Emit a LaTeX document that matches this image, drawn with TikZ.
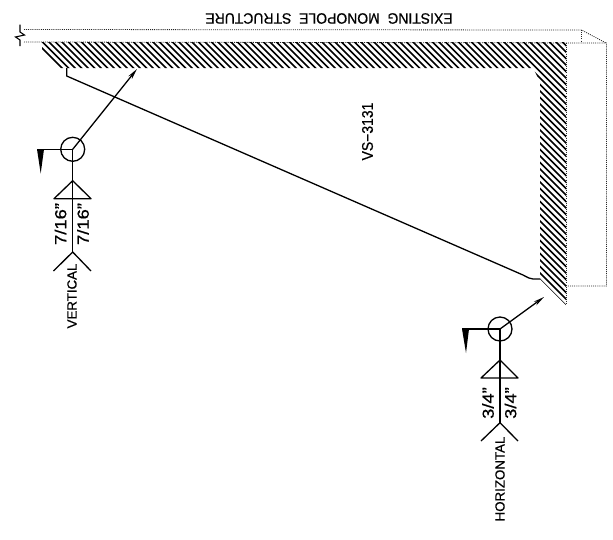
\documentclass[tikz,border=0pt]{standalone}
\usepackage{fontspec}
\usepackage{graphicx}
\setmainfont{Liberation Sans}[RawFeature={embolden=0.6}]
\usetikzlibrary{arrows.meta}
\tikzset{
  x=1pt,y=-1pt,
  ink/.style={line width=1.3pt,black},
  thin ink/.style={line width=1.1pt,black},
  dots/.style={line width=0.8pt,black!85,dash pattern=on 1pt off 1.1pt},
  hatchline/.style={line width=1.5pt,black},
  weldring/.style={circle,draw,line width=1.3pt,minimum size=24pt,inner sep=0pt},
  lbl/.style={inner sep=0pt,font=\fontsize{13.3pt}{14pt}\selectfont,rotate=90},
  size/.style={inner sep=0pt,font=\fontsize{16pt}{17pt}\selectfont,rotate=90},
  arrowed/.style={-{Stealth[length=11pt,width=4.5pt]}},
}
\begin{document}
\begin{tikzpicture}
\useasboundingbox (0,0) rectangle (613,539);
% outline of the existing structure
\coordinate (ta) at (24,29.5);
\coordinate (tb) at (581.5,30);
\coordinate (tc) at (606,43);
\coordinate (tcb) at (581.5,41);
\coordinate (ba) at (24,42);
\coordinate (bb) at (606.5,43);
\coordinate (rb) at (606.5,286);
\coordinate (rc) at (567,286);
\coordinate (ea) at (566.5,43);
\coordinate (eb) at (566.5,304);
\draw[dots] (ta) -- (tb) -- (tc);
\draw[dots] (tb) -- (tcb);
\draw[dots] (ba) -- (bb) -- (rb) -- (rc);
\draw[dots] (ea) -- (eb);
% break symbol
\coordinate (k1) at (20,24.5);
\coordinate (k2) at (20,32);
\coordinate (k3) at (24.5,35);
\coordinate (k4) at (15.5,37);
\coordinate (k5) at (20,40);
\coordinate (k6) at (20,46);
\draw[thin ink] (k1) -- (k2) -- (k3) -- (k4) -- (k5) -- (k6);
% hatched section
\begin{scope}
\clip (42,42) -- (566,42) -- (566,305) -- (540,279) -- (540,82) -- (533,68) -- (61,68) -- (42,49) -- cycle;
\foreach \c in {0,...,90} {
  \pgfmathsetmacro{\off}{6-6.5*\c}
  \draw[hatchline] (20,20+\off) -- (600,600+\off);
}
\end{scope}
% plate edge
\coordinate (w1) at (66.7,68);
\coordinate (w2) at (66.7,76);
\coordinate (w3) at (523,275);
\coordinate (w4) at (540,279);
\draw[ink,line join=round] (w1) -- (w2) -- (w3) .. controls (528,277.5) and (530,279) .. (533,279) -- (w4);
\node[lbl,font=\fontsize{15.5pt}{16pt}\selectfont] (plate) at (367.5,131.5) {\scalebox{0.9}[1]{VS−3131}};
\node[inner sep=0pt,rotate=180,font=\fontsize{15pt}{16pt}\selectfont] (struct) at (329,18.5) {\scalebox{0.93}[1]{EXISTING\ \ MONOPOLE\ \ STRUCTURE}};
% vertical weld symbol
\node[weldring] (ring1) at (72.7,149.3) {};
\coordinate (arrow1) at (137,69);
\coordinate (flag1) at (37,149.3);
\coordinate (flag1b) at (44,149.3);
\coordinate (flag1c) at (40.7,173.5);
\coordinate (stem1) at (72.7,252);
\coordinate (tri1) at (72.7,180.7);
\coordinate (tri1l) at (54,198.7);
\coordinate (tri1r) at (91,198.7);
\coordinate (fork1l) at (53.5,271);
\coordinate (fork1r) at (91,271);
\draw[ink,arrowed] (ring1.center) -- (arrow1);
\draw[ink] (ring1.center) -- (flag1);
\fill (flag1) -- (flag1b) -- (flag1c) -- cycle;
\draw[ink] (ring1.center) -- (stem1);
\draw[ink,line join=round] (tri1) -- (tri1l) -- (tri1r) -- cycle;
\draw[ink] (fork1l) -- (stem1) -- (fork1r);
\node[size] (v1) at (60.5,224) {\scalebox{1.15}[1]{7/16"}};
\node[size] (v2) at (83,224) {\scalebox{1.15}[1]{7/16"}};
\node[lbl] (vert) at (72,296) {VERTICAL};
% horizontal weld symbol
\node[weldring] (ring2) at (500,329) {};
\coordinate (arrow2) at (544,297);
\coordinate (flag2) at (462,329);
\coordinate (flag2b) at (469,329);
\coordinate (flag2c) at (466,353);
\coordinate (stem2) at (500,422.7);
\coordinate (tri2) at (500,360);
\coordinate (tri2l) at (481,378);
\coordinate (tri2r) at (518,378);
\coordinate (fork2l) at (481,441);
\coordinate (fork2r) at (518,441);
\draw[ink,arrowed] (ring2.center) -- (arrow2);
\draw[ink] (ring2.center) -- (flag2);
\fill (flag2) -- (flag2b) -- (flag2c) -- cycle;
\draw[ink] (ring2.center) -- (stem2);
\draw[ink,line join=round] (tri2) -- (tri2l) -- (tri2r) -- cycle;
\draw[ink] (fork2l) -- (stem2) -- (fork2r);
\node[size] (h1) at (488,403) {\scalebox{1.15}[1]{3/4"}};
\node[size] (h2) at (510.5,403) {\scalebox{1.15}[1]{3/4"}};
\node[lbl] (horiz) at (500,479) {HORIZONTAL};
\end{tikzpicture}
\end{document}
